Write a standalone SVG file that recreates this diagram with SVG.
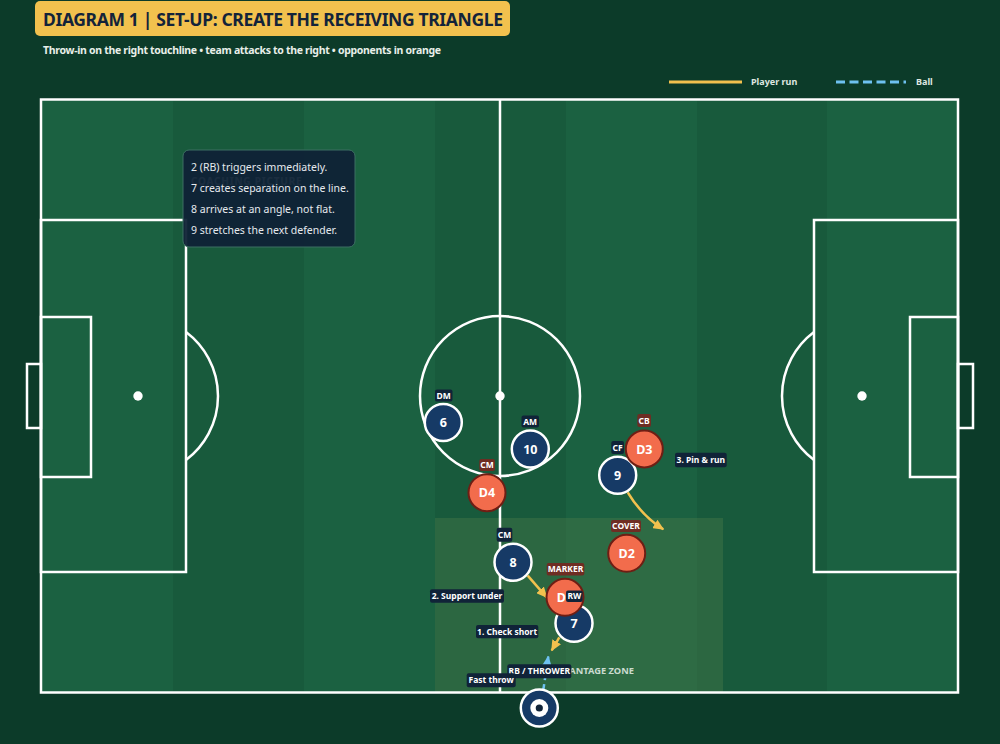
<svg xmlns="http://www.w3.org/2000/svg" width="1000" height="744" viewBox="0 0 1000 744">
<defs>
<style>
text{font-family:"Noto Sans","Open Sans","DejaVu Sans",sans-serif;}
.line{fill:none;stroke:#ffffff;stroke-width:2.5;}
.sl{fill:#1b6141;}
.sd{fill:#185a3c;}
.pl circle{fill:#163a66;stroke:#ffffff;stroke-width:2.5;}
.op circle{fill:#f26c4c;stroke:#6e1e14;stroke-width:2;}
.num{fill:#ffffff;font-size:12.5px;font-weight:700;text-anchor:middle;}
.lbn{fill:#102338;}
.lbm{fill:#6e2d23;}
.lt{fill:#ffffff;font-size:8.5px;font-weight:700;text-anchor:middle;}
.note{fill:#e6eaee;font-size:10.5px;}
.run{fill:none;stroke:#f2c14e;stroke-width:2.5;}
.ball{fill:none;stroke:#6ec1f0;stroke-width:2.5;stroke-dasharray:6 4;}
</style>
<marker id="ay" markerUnits="userSpaceOnUse" markerWidth="11" markerHeight="10" refX="10" refY="5" orient="auto"><path d="M0,0 L11,5 L0,10 z" fill="#f2c14e"/></marker>
<marker id="ab" markerUnits="userSpaceOnUse" markerWidth="11" markerHeight="10" refX="10" refY="5" orient="auto"><path d="M0,0 L11,5 L0,10 z" fill="#6ec1f0"/></marker>
</defs>
<rect x="0" y="0" width="1000" height="744" fill="#0c3b29"/>

<g id="title">
<rect x="35" y="1" width="475" height="35" rx="5" fill="#f2c14e"/>
<text x="43" y="26" font-size="17.5" font-weight="700" fill="#13233a" textLength="460" lengthAdjust="spacing">DIAGRAM 1 | SET-UP: CREATE THE RECEIVING TRIANGLE</text>
<text x="43" y="54.3" font-size="10.5" font-weight="700" fill="#e8efe9" textLength="398" lengthAdjust="spacing">Throw-in on the right touchline • team attacks to the right • opponents in orange</text>
</g>

<g id="legend">
<line x1="669" y1="82" x2="742" y2="82" stroke="#f2c14e" stroke-width="3"/>
<text x="751" y="85" font-size="9" font-weight="700" fill="#dfe7e0">Player run</text>
<line x1="836" y1="82" x2="906" y2="82" stroke="#6ec1f0" stroke-width="3" stroke-dasharray="9 4.5"/>
<text x="916" y="85" font-size="9" font-weight="700" fill="#dfe7e0">Ball</text>
</g>

<g id="pitch">
<rect class="sl" x="41" y="99.5" width="132" height="593"/>
<rect class="sd" x="173" y="99.5" width="131" height="593"/>
<rect class="sl" x="304" y="99.5" width="131" height="593"/>
<rect class="sd" x="435" y="99.5" width="131" height="593"/>
<rect class="sl" x="566" y="99.5" width="131" height="593"/>
<rect class="sd" x="697" y="99.5" width="130" height="593"/>
<rect class="sl" x="827" y="99.5" width="131" height="593"/>
<rect x="435" y="518" width="288" height="174" fill="#4a7a48" fill-opacity="0.4"/>
<text x="634" y="674" font-size="9.3" font-weight="700" fill="#e2ebe4" fill-opacity="0.88" text-anchor="end">ADVANTAGE ZONE</text>
<rect class="line" x="41" y="99.5" width="917" height="593"/>
<line class="line" x1="500" y1="99.5" x2="500" y2="692.5"/>
<circle class="line" cx="500" cy="396" r="80"/>
<circle cx="500" cy="396" r="4.7" fill="#ffffff"/>
<rect class="line" x="41" y="220" width="145" height="352"/>
<rect class="line" x="41" y="317" width="50" height="160"/>
<rect class="line" x="27" y="364" width="14" height="64"/>
<circle cx="138" cy="396" r="4.7" fill="#ffffff"/>
<path class="line" d="M186,332 A80,80 0 0 1 186,460"/>
<rect class="line" x="814" y="220" width="144" height="352"/>
<rect class="line" x="910" y="317" width="48" height="160"/>
<rect class="line" x="958" y="364" width="15" height="64"/>
<circle cx="862" cy="396" r="4.7" fill="#ffffff"/>
<path class="line" d="M814,332 A80,80 0 0 0 814,460"/>
</g>

<g id="notes">
<text x="191" y="185" font-size="10" font-weight="700" fill="#ffffff" letter-spacing="0.8">COACHING PICTURE</text>
<rect x="183" y="150" width="172" height="97" rx="6" fill="#0f2236" fill-opacity="0.95" stroke="#3d6f62" stroke-width="1"/>
<text class="note" x="191" y="171">2 (RB) triggers immediately.</text>
<text class="note" x="191" y="192">7 creates separation on the line.</text>
<text class="note" x="191" y="212.5">8 arrives at an angle, not flat.</text>
<text class="note" x="191" y="233.5">9 stretches the next defender.</text>
</g>

<g id="connectors">
<path class="run" d="M627.7,492.3 Q642,516 663.3,529.3" marker-end="url(#ay)"/>
<path class="run" d="M527.7,575.7 L546.7,597.3" marker-end="url(#ay)"/>
<path class="run" d="M559.3,637.3 L551.7,650.5" marker-end="url(#ay)"/>
<path class="ball" d="M543.3,690 L548.3,656.5" marker-end="url(#ab)"/>
</g>

<g id="p6" class="pl"><circle cx="443.3" cy="422.5" r="18.5"/><text class="num" x="443.3" y="427">6</text></g>
<g id="p10" class="pl"><circle cx="530.3" cy="449" r="18.5"/><text class="num" x="530.3" y="453.5">10</text></g>
<g id="p9" class="pl"><circle cx="617.7" cy="475.3" r="18.5"/><text class="num" x="617.7" y="479.8">9</text></g>
<g id="p8" class="pl"><circle cx="513" cy="562.3" r="18.5"/><text class="num" x="513" y="566.8">8</text></g>
<g id="p7" class="pl"><circle cx="574" cy="623.3" r="18.5"/><text class="num" x="574" y="627.8">7</text></g>
<g id="thrower" class="pl"><circle cx="539.3" cy="708" r="18.5"/><circle cx="539.3" cy="708" r="9" style="fill:#ffffff;stroke:none"/><circle cx="539.3" cy="708" r="3.6" style="fill:#102338;stroke:none"/></g>

<g id="d4" class="op"><circle cx="487" cy="492.7" r="18.5"/><text class="num" x="487" y="497.2">D4</text></g>
<g id="d3" class="op"><circle cx="644.3" cy="449" r="18.5"/><text class="num" x="644.3" y="453.5">D3</text></g>
<g id="d2" class="op"><circle cx="626.7" cy="553.3" r="18.5"/><text class="num" x="626.7" y="557.8">D2</text></g>
<g id="d1" class="op"><circle cx="565" cy="597.3" r="18.5"/><text class="num" x="565" y="601.8">D1</text></g>

<g id="labels">
<rect class="lbn" x="435" y="389.5" width="17.5" height="12" rx="2"/><text class="lt" x="443.7" y="398.5">DM</text>
<rect class="lbn" x="521.5" y="415.5" width="17.5" height="12" rx="2"/><text class="lt" x="530.2" y="424.5">AM</text>
<rect class="lbm" x="479.3" y="459" width="15.7" height="12" rx="2"/><text class="lt" x="487.1" y="468">CM</text>
<rect class="lbm" x="637.3" y="414" width="13.7" height="13" rx="2"/><text class="lt" x="644.1" y="423.6">CB</text>
<rect class="lbn" x="611.3" y="441" width="12.7" height="13" rx="2"/><text class="lt" x="617.6" y="450.6">CF</text>
<rect class="lbn" x="675" y="452.7" width="51.7" height="14.6" rx="2"/><text class="lt" x="700.8" y="463">3. Pin &amp; run</text>
<rect class="lbm" x="611" y="520" width="30" height="12" rx="2"/><text class="lt" x="626" y="529">COVER</text>
<rect class="lbn" x="496.7" y="527.7" width="15.6" height="14" rx="2"/><text class="lt" x="504.5" y="537.7">CM</text>
<rect class="lbm" x="546.7" y="563" width="37.6" height="12.5" rx="2"/><text class="lt" x="565.5" y="572.3">MARKER</text>
<rect class="lbn" x="566" y="590.5" width="16.7" height="11.5" rx="2"/><text class="lt" x="574.3" y="599.3">RW</text>
<rect class="lbn" x="430" y="589.3" width="74" height="13.4" rx="2"/><text class="lt" x="467" y="599">2. Support under</text>
<rect class="lbn" x="476" y="625" width="62.3" height="13.3" rx="2"/><text class="lt" x="507.1" y="634.7">1. Check short</text>
<rect class="lbn" x="507.3" y="664.3" width="64" height="14" rx="2"/><text class="lt" x="539.3" y="674.3">RB / THROWER</text>
<rect class="lbn" x="466.7" y="673.3" width="49" height="14" rx="2"/><text class="lt" x="491.2" y="683.3">Fast throw</text>
</g>
</svg>
